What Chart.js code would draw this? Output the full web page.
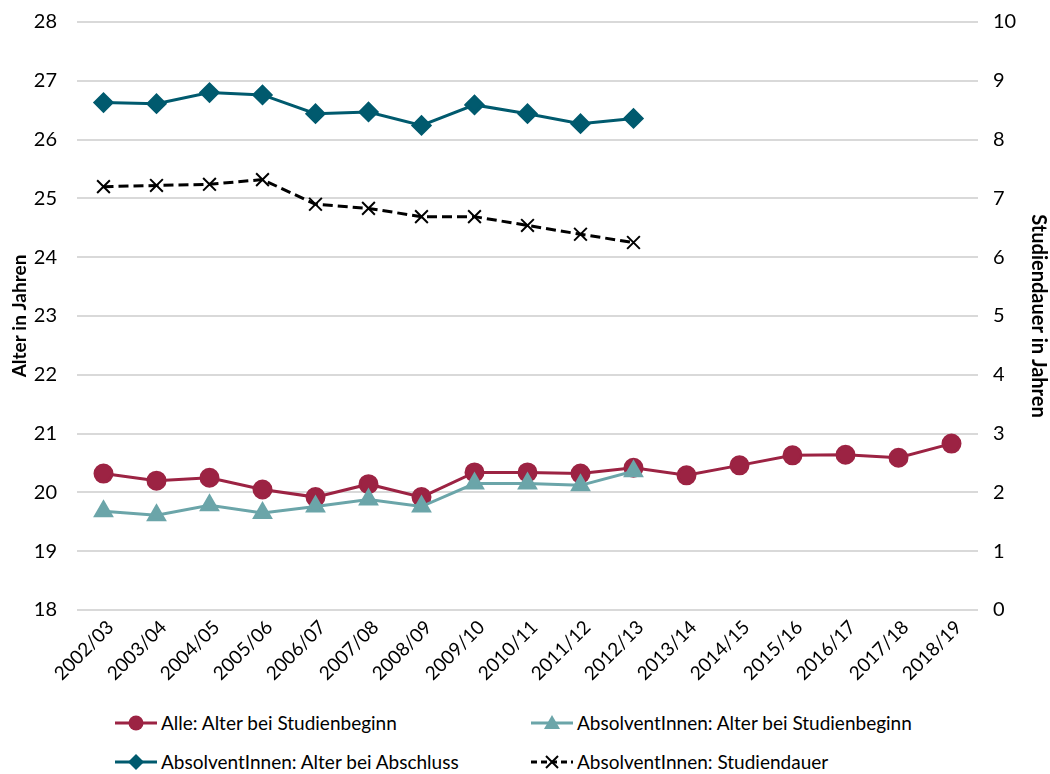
<!DOCTYPE html>
<html>
<head>
<meta charset="utf-8">
<script src="https://cdn.jsdelivr.net/npm/chart.js@4.4.1/dist/chart.umd.min.js"></script>
<style>
  html, body { margin: 0; padding: 0; background: #fff; overflow: hidden; }
  #wrap { position: relative; width: 1050px; height: 774px; overflow: hidden; font-family: Lato, "Liberation Sans", sans-serif; }
  #chartBox { position: absolute; left: 0; top: -10px; width: 1050px; height: 710px; }
  #legend { position: absolute; left: 0; top: 700px; width: 1050px; height: 74px; }
  .item { position: absolute; display: flex; align-items: center; font-size: 19px; color: #000; white-space: nowrap; }
  .item svg { margin-right: 3px; }
</style>
</head>
<body>
<div id="wrap">
  <div id="chartBox"><canvas id="c" width="1050" height="710"></canvas></div>
  <div id="legend"></div>
</div>
<script>
const categories = ["2002/03","2003/04","2004/05","2005/06","2006/07","2007/08","2008/09","2009/10","2010/11","2011/12","2012/13","2013/14","2014/15","2015/16","2016/17","2017/18","2018/19"];
const alleBeginn = [20.32,20.20,20.25,20.05,19.92,20.14,19.92,20.34,20.34,20.32,20.42,20.29,20.46,20.63,20.64,20.59,20.83];
const absBeginn = [19.68,19.61,19.78,19.65,19.76,19.88,19.76,20.15,20.15,20.12,20.36,null,null,null,null,null,null];
const absAbschluss = [26.63,26.61,26.80,26.76,26.44,26.47,26.24,26.59,26.44,26.27,26.36,null,null,null,null,null,null];
const studiendauer = [7.20,7.22,7.24,7.32,6.90,6.83,6.69,6.69,6.54,6.39,6.25,null,null,null,null,null,null];
const leftTicks = [18,19,20,21,22,23,24,25,26,27,28];
const rightTicks = [0,1,2,3,4,5,6,7,8,9,10];
const seriesNames = ["Alle: Alter bei Studienbeginn","AbsolventInnen: Alter bei Studienbeginn","AbsolventInnen: Alter bei Abschluss","AbsolventInnen: Studiendauer"];

const FONT = "Lato, 'Liberation Sans', sans-serif";
const cRed = "#9c2343", cTeal = "#6ba5a9", cDark = "#005a6e", cBlack = "#000000";

const datasets = [
  { label: seriesNames[0], data: alleBeginn, yAxisID: "y", borderColor: cRed, backgroundColor: cRed,
    borderWidth: 3, pointStyle: "circle", pointRadius: 8.5, pointHoverRadius: 8.5, order: 2 },
  { label: seriesNames[1], data: absBeginn, yAxisID: "y", borderColor: cTeal, backgroundColor: cTeal,
    borderWidth: 3, pointStyle: "triangle", pointRadius: 9, pointHoverRadius: 9, order: 1 },
  { label: seriesNames[2], data: absAbschluss, yAxisID: "y", borderColor: cDark, backgroundColor: cDark,
    borderWidth: 3, pointStyle: "rectRot", pointRadius: 8.5, pointHoverRadius: 8.5, order: 3 },
  { label: seriesNames[3], data: studiendauer, yAxisID: "y1", borderColor: cBlack, backgroundColor: cBlack,
    borderWidth: 3, borderDash: [10, 5], pointStyle: "crossRot", pointRadius: 9, pointBorderWidth: 2, pointHoverRadius: 9, order: 4 }
];

new Chart(document.getElementById("c"), {
  type: "line",
  data: { labels: categories, datasets: datasets },
  options: {
    responsive: false,
    animation: false,
    spanGaps: false,
    layout: { padding: { top: 0, bottom: 0, left: 0, right: 0 } },
    plugins: { legend: { display: false }, tooltip: { enabled: false } },
    scales: {
      x: {
        offset: true,
        grid: { display: false, drawTicks: false },
        border: { display: false },
        ticks: { minRotation: 45, maxRotation: 45, color: "#000", padding: 6, labelOffset: 7, font: { family: FONT, size: 19 }, autoSkip: false },
        afterFit: (s) => { s.height = 90; }
      },
      y: {
        position: "left", min: 18, max: 28,
        afterBuildTicks: (s) => { s.ticks = leftTicks.map(v => ({ value: v })); },
        grid: { color: "#d9d9d9", lineWidth: 2, drawTicks: false },
        border: { display: false },
        ticks: { color: "#000", padding: 20, font: { family: FONT, size: 20 } },
        title: { display: true, text: "Alter in Jahren", color: "#000", padding: { top: 8, bottom: 0 }, font: { family: FONT, size: 19, weight: "bold" } },
        afterFit: (s) => { s.width = 77; }
      },
      y1: {
        position: "right", min: 0, max: 10,
        afterBuildTicks: (s) => { s.ticks = rightTicks.map(v => ({ value: v })); },
        grid: { display: false, drawTicks: false },
        border: { display: false },
        ticks: { color: "#000", padding: 15, font: { family: FONT, size: 20 } },
        title: { display: true, text: "Studiendauer in Jahren", color: "#000", padding: { top: 0, bottom: 0 }, font: { family: FONT, size: 20, weight: "bold" } },
        afterFit: (s) => { s.width = 72; }
      }
    }
  }
});

// HTML legend built from the dataset definitions
const legendPos = [[114, 23], [530, 23], [114, 62], [530, 62]];
function markerSvg(ds) {
  const c = ds.borderColor;
  const dash = ds.borderDash ? ' stroke-dasharray="6 4"' : '';
  let m = '';
  const cx = 22, cy = 11;
  if (ds.pointStyle === "circle") m = `<circle cx="${cx}" cy="${cy}" r="7.5" fill="${c}"/>`;
  else if (ds.pointStyle === "triangle") m = `<polygon points="${cx},${cy-8} ${cx+8},${cy+6} ${cx-8},${cy+6}" fill="${c}"/>`;
  else if (ds.pointStyle === "rectRot") m = `<polygon points="${cx},${cy-8} ${cx+8},${cy} ${cx},${cy+8} ${cx-8},${cy}" fill="${c}"/>`;
  else m = `<line x1="${cx-6}" y1="${cy-6}" x2="${cx+6}" y2="${cy+6}" stroke="${c}" stroke-width="2"/><line x1="${cx-6}" y1="${cy+6}" x2="${cx+6}" y2="${cy-6}" stroke="${c}" stroke-width="2"/>`;
  return `<svg width="44" height="22"><line x1="1" y1="${cy}" x2="43" y2="${cy}" stroke="${c}" stroke-width="3"${dash}/>${m}</svg>`;
}
const legend = document.getElementById("legend");
datasets.forEach((ds, i) => {
  const d = document.createElement("div");
  d.className = "item";
  d.style.left = legendPos[i][0] + "px";
  d.style.top = (legendPos[i][1] - 12) + "px";
  d.innerHTML = markerSvg(ds) + "<span>" + ds.label + "</span>";
  legend.appendChild(d);
});
</script>
</body>
</html>
